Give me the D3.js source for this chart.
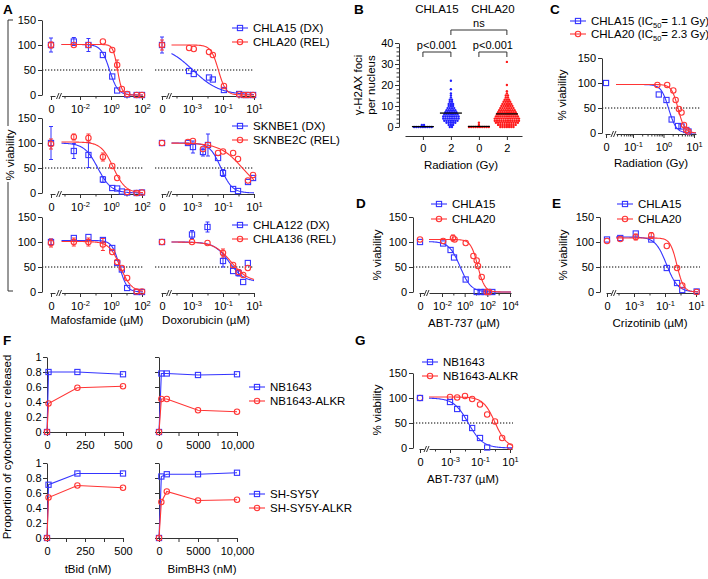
<!DOCTYPE html>
<html>
<head>
<meta charset="utf-8">
<script src="https://cdn.jsdelivr.net/npm/d3@7/dist/d3.min.js"></script>
<style>
  body { margin: 0; background: #fff; }
  svg text { font-family: Arial, "Liberation Sans", Helvetica, sans-serif; fill: #000; }
  .axis path, .axis line { stroke: #333; stroke-width: 1; }
  .axis text { font-size: 11px; font-family: Arial, "Liberation Sans", sans-serif; fill: #000; }
</style>
</head>
<body>
<svg id="fig" width="708" height="579"></svg>
<script>
// ---------- A: mafosfamide (uM) ----------
var mafConc = [0, 0.004, 0.035, 0.3, 1.2, 2.5, 5, 11, 45, 100];
var mafCHLA15 = [100, 107, 100, 80, 37, 9, null, 1, 0, 0];
var mafCHLA15Sd = [14, 8, 13, 3, 4, 2, 0, 1, 0, 0];
var mafCHLA20 = [100, 100, 100, 107, 90, 60, 12, 2, 0, 0];
var mafCHLA20Sd = [6, 3, 4, 2, 3, 10, 3, 2, 0, 0];
var mafSKNBE1 = [100, 84, 76, 27, 10, 9, 3, 1, 0, 1];
var mafSKNBE1Sd = [33, 15, 25, 6, 2, 2, 1, 1, 1, 1];
var mafSKNBE2C = [98, 112, 110, 72, 54, 30, null, 2, 0, 1];
var mafSKNBE2CSd = [10, 6, 8, 8, 3, 5, 0, 1, 1, 1];
var mafCHLA122 = [100, 108, 110, 104, 88, 58, 45, 8, 0, 0];
var mafCHLA122Sd = [6, 5, 4, 4, 3, 3, 3, 2, 0, 0];
var mafCHLA136 = [98, 100, 100, 95, 80, 60, 48, 28, 1, 1];
var mafCHLA136Sd = [8, 8, 8, 12, 3, 3, 3, 3, 1, 1];

// ---------- A: doxorubicin (uM) ----------
var doxConc1 = [0, 0.00065, 0.0013, 0.0125, 0.022, 0.115, 1.1, 2.2, 4.1, 8.7];
var doxCHLA15 = [100, 48, 42, 35, 31, 10, 2, 0, 0, 0];
var doxCHLA15Sd = [16, 2, 2, 2, 2, 2, 1, 0, 0, 0];
var doxCHLA20 = [100, 94, 92, 86, 80, 18, 1, 0, 0, 0];
var doxCHLA20Sd = [10, 5, 5, 3, 3, 2, 1, 0, 0, 0];
var doxConc2 = [0, 0.00055, 0.00115, 0.0051, 0.0107, 0.048, 0.1, 0.45, 0.93, 4.1, 8.7];
var doxSKNBE1 = [100, 100, 92, 82, 96, 70, 40, 8, 4, 22, 30];
var doxSKNBE1Sd = [2, 3, 12, 8, 22, 3, 7, 2, 2, 3, 3];
var doxSKNBE2C = [100, 102, 104, 88, 96, 80, 83, 80, 68, 25, 36];
var doxSKNBE2CSd = [2, 3, 4, 4, 3, 3, 3, 2, 2, 2, 3];
var doxConc3 = [0, 0.001, 0.01, 0.1, 0.45, 1, 2, 4];
var doxCHLA122 = [100, 115, 130, 62, 42, 38, 20, 58];
var doxCHLA122Sd = [2, 8, 10, 12, 4, 6, 3, 3];
var doxCHLA136 = [100, 100, 98, 78, 54, 40, 34, 48];
var doxCHLA136Sd = [2, 3, 3, 8, 3, 3, 3, 3];

// fitted curves: [top, bottom, logIC50, hill slope]
var fitMafCHLA15 = [101, 0, -0.1, 1.6];
var fitMafCHLA20 = [101, 0, 0.42, 3];
var fitMafSKNBE1 = [100, 0, -0.85, 1.0];
var fitMafSKNBE2C = [102, 0, 0.15, 1.1];
var fitMafCHLA122 = [103, 0, 0.55, 1.8];
var fitMafCHLA136 = [101, 0, 0.6, 1.2];
var fitDoxCHLA15 = [100, 0, -2.95, 0.5];
var fitDoxCHLA20 = [100, 0, -1.3, 1.8];
var fitDoxSKNBE1 = [100, 0, -1.13, 1.2];
var fitDoxSKNBE2C = [100, 0, 0.25, 0.6];
var fitDoxCHLA122 = [100, 20, -0.6, 0.9];
var fitDoxCHLA136 = [100, 20, -0.47, 0.79];

// ---------- B: gamma-H2AX foci per nucleus ----------
var fociGroups = ["0", "2", "0", "2"];
var foci15_0Gy = [0, 0, 0, 0, 0, 0, 0, 0, 0, 1, 1];
var foci15_2Gy = [0, 0, 1, 1, 1, 2, 2, 2, 2, 2, 3, 3, 3, 3, 3, 3, 3, 4, 4, 4, 4, 4, 4, 4, 4,
  5, 5, 5, 5, 5, 5, 5, 5, 6, 6, 6, 6, 6, 6, 6, 7, 7, 7, 7, 7, 7, 8, 8, 8, 8, 8, 9, 9, 9, 9,
  10, 10, 10, 11, 11, 11, 12, 12, 13, 13, 14, 15, 16, 18, 22];
var foci20_0Gy = [0, 0, 0, 0, 0, 0, 0, 0, 0, 0, 1, 2];
var foci20_2Gy = [0, 0, 0, 0, 0, 0, 0, 1, 1, 1, 1, 1, 1, 1, 1, 1, 2, 2, 2, 2, 2, 2, 2, 2, 2, 2, 2,
  3, 3, 3, 3, 3, 3, 3, 3, 3, 3, 3, 3, 4, 4, 4, 4, 4, 4, 4, 4, 4, 4, 4, 4,
  5, 5, 5, 5, 5, 5, 5, 5, 5, 5, 5, 6, 6, 6, 6, 6, 6, 6, 6, 6, 6, 7, 7, 7, 7, 7, 7, 7, 7, 7,
  8, 8, 8, 8, 8, 8, 8, 8, 9, 9, 9, 9, 9, 9, 9, 10, 10, 10, 10, 10, 10, 11, 11, 11, 11, 11,
  12, 12, 12, 12, 13, 13, 13, 14, 14, 15, 15, 16, 17, 20, 31];

// ---------- C: radiation (Gy) ----------
var radDose15 = [0, 0.7, 1.25, 1.85, 3.0, 3.9, 5.6, 6.6];
var radCHLA15 = [100, 77, 66, 27, 14, 13, 6, 3];
var radDose20 = [0.63, 1.32, 2.1, 2.5, 3.2, 3.9, 4.7, 5.6, 6.5];
var radCHLA20 = [96, 96, 85, 66, 48, 41, 16, 6, 3];
var fitRadCHLA15 = [97, 0, 0.17, 3.5];
var fitRadCHLA20 = [97, 0, 0.48, 4];

// ---------- D: ABT-737 (uM) ----------
var abtDose15 = [0, 0.0126, 0.057, 0.115, 1.23, 11.5, 26, 58, 115, 275];
var abtCHLA15 = [100, 97, 84, 69, 25, 0, 0, 0, 0, 0];
var abtCHLA15Sd = [3, 2, 2, 2, 2, 0, 0, 0, 0, 0];
var abtDose20 = [0, 0.0126, 0.093, 0.13, 1.23, 5.9, 11.5, 15, 32, 87, 140];
var abtCHLA20 = [105, 102, 108, 105, 98, 72, 63, 52, 30, 0, 0];
var abtCHLA20Sd = [5, 3, 6, 3, 2, 3, 3, 3, 2, 0, 0];
var fitAbtCHLA15 = [101, 0, -0.4, 0.9];
var fitAbtCHLA20 = [105, 0, 1.15, 1.4];

// ---------- E: crizotinib (uM) ----------
var crizDose = [0, 0.00013, 0.0013, 0.013, 0.13, 0.6, 1.3, 11];
var crizCHLA15 = [105, 108, 117, 105, 48, 18, 4, 1];
var crizCHLA15Sd = [2, 2, 4, 2, 2, 2, 1, 0];
var crizCHLA20 = [102, 106, 110, 113, 92, 48, 13, 0];
var crizCHLA20Sd = [2, 2, 6, 6, 5, 2, 1, 0];
var fitCrizCHLA15 = [110, 0, -0.9, 1.2];
var fitCrizCHLA20 = [108, 0, -0.23, 2];

// ---------- F: cytochrome c release ----------
var tBidDose = [0, 10, 200, 500];
var tBidNB1643 = [0, 0.8, 0.8, 0.77];
var tBidNB1643ALKR = [0, 0.38, 0.59, 0.61];
var tBidSHSY5Y = [0, 0.71, 0.86, 0.86];
var tBidSHSY5YALKR = [0, 0.54, 0.7, 0.67];
var bimDose = [0, 300, 1000, 5000, 10000];
var bimNB1643 = [0, 0.78, 0.78, 0.76, 0.77];
var bimNB1643ALKR = [0, 0.44, 0.44, 0.29, 0.27];
var bimSHSY5Y = [0, 0.82, 0.85, 0.85, 0.87];
var bimSHSY5YALKR = [0, 0.48, 0.62, 0.5, 0.51];

// ---------- G: ABT-737 (uM) ----------
var abtDoseG = [0, 0.001, 0.003, 0.01, 0.03, 0.1, 0.3, 1, 3, 10];
var abtNB1643 = [100, 92, 78, 60, 40, 20, 1, null, null, null];
var abtNB1643Sd = [2, 2, 2, 2, 2, 2, 0, 0, 0, 0];
var abtNB1643ALKR = [100, 102, 101, 104, 98, 87, 67, 53, 20, 3];
var abtNB1643ALKRSd = [2, 3, 3, 5, 2, 2, 2, 2, 2, 1];
var fitAbtNB1643 = [100, 0, -1.78, 0.9];
var fitAbtNB1643ALKR = [102, 0, 0.0, 1.1];

var BLUE = "#3535ff", RED = "#ff3535";
var svg = d3.select("#fig");

function hill(p, c) {
  return p[1] + (p[0] - p[1]) / (1 + Math.pow(10, p[3] * (Math.log10(c) - p[2])));
}

function marker(g, shape, cx, cy, color) {
  if (shape === "sq") {
    g.append("rect").attr("x", cx - 2.6).attr("y", cy - 2.6).attr("width", 5.2).attr("height", 5.2)
      .attr("fill", "none").attr("stroke", color).attr("stroke-width", 1.1);
  } else {
    g.append("circle").attr("cx", cx).attr("cy", cy).attr("r", 2.7)
      .attr("fill", "none").attr("stroke", color).attr("stroke-width", 1.1);
  }
}

function legend(x, y, shape, color, name) {
  svg.append("line").attr("x1", x).attr("x2", x + 16).attr("y1", y).attr("y2", y)
    .attr("stroke", color).attr("stroke-width", 1.1);
  marker(svg, shape, x + 8, y, color);
  return svg.append("text").attr("x", x + 21).attr("y", y).attr("dy", "0.36em")
    .style("font-size", "11.5px").text(name);
}

function words(x, y, s, size, anchor, bold) {
  return svg.append("text").attr("x", x).attr("y", y).attr("text-anchor", anchor || "middle")
    .style("font-size", size + "px").style("font-weight", bold ? "bold" : "normal").text(s);
}

function vlabel(x, y, s) {
  svg.append("text").attr("transform", "translate(" + x + "," + y + ") rotate(-90)")
    .attr("text-anchor", "middle").style("font-size", "11.5px").text(s);
}

// dose-response panel with a "0" stub, an axis break and a log axis
function viability(spec) {
  var g = svg.append("g");
  var y = d3.scaleLinear().domain([0, 150]).range([spec.y0, spec.y0 - 75]);
  var x = d3.scaleLog()
    .domain([Math.pow(10, spec.ref[0]), Math.pow(10, spec.ref[2])])
    .range([spec.ref[1], spec.ref[3]]);
  var logStart = spec.brk + 5;
  var xl = x.copy().domain([x.invert(logStart), x.invert(spec.end)]).range([logStart, spec.end]);
  var px = function (c) { return c === 0 ? spec.zeroX : x(c); };
  var ay = spec.y0 + 1;

  g.append("line").attr("x1", spec.dot[0]).attr("x2", spec.dot[1])
    .attr("y1", y(50)).attr("y2", y(50))
    .attr("stroke", "#000").attr("stroke-width", 1).attr("stroke-dasharray", "1.3,1.7");

  if (spec.yAxisX != null) {
    g.append("g").attr("class", "axis").attr("transform", "translate(" + spec.yAxisX + ",0)")
      .call(d3.axisLeft(y).tickValues([0, 50, 100, 150]).tickSize(4).tickSizeOuter(0).tickPadding(2));
  }

  var zs = d3.scaleLinear().domain([-1, 4]).range([spec.zeroX - 1, spec.zeroX + 4]);
  g.append("g").attr("class", "axis").attr("transform", "translate(0," + ay + ")")
    .call(d3.axisBottom(zs).tickValues([0]).tickSize(4).tickSizeOuter(0).tickPadding(5)
      .tickFormat(function () { return "0"; }));

  var major = g.append("g").attr("class", "axis").attr("transform", "translate(0," + ay + ")")
    .call(d3.axisBottom(xl).tickValues(spec.major.map(function (e) { return Math.pow(10, e); }))
      .tickSize(4).tickSizeOuter(0).tickPadding(5).tickFormat(""));
  major.selectAll(".tick text").each(function (d) {
    var t = d3.select(this).text("10");
    t.append("tspan").attr("dy", "-0.5em").style("font-size", "7.5px")
      .text(Math.round(Math.log10(d)));
  });
  var dom = xl.domain();
  g.append("g").attr("class", "axis").attr("transform", "translate(0," + ay + ")")
    .call(d3.axisBottom(xl).tickValues(spec.minor.filter(function (v) { return v > dom[0] && v < dom[1]; }))
      .tickSize(2.5).tickFormat(""))
    .select(".domain").remove();

  [0, 2.5].forEach(function (o) {
    g.append("line").attr("x1", spec.brk + o).attr("x2", spec.brk + 2.5 + o)
      .attr("y1", ay + 3).attr("y2", ay - 3).attr("stroke", "#333").attr("stroke-width", 1);
  });

  spec.series.forEach(function (s) {
    var pts = d3.range(0, 121).map(function (i) {
      var c = dom[0] * Math.pow(dom[1] / dom[0], i / 120);
      return [x(c), y(hill(s.fit, c))];
    });
    g.append("path").attr("d", d3.line()(pts)).attr("fill", "none")
      .attr("stroke", s.color).attr("stroke-width", 1.1);
    s.conc.forEach(function (c, i) {
      var v = s.val[i];
      if (v == null) return;
      var e = s.sd ? s.sd[i] : 0;
      var cx = px(c);
      if (e > 5) {
        var y1 = y(v - e), y2 = y(v + e);
        g.append("path")
          .attr("d", "M" + cx + "," + y1 + "V" + y2 + "M" + (cx - 2) + "," + y1 + "h4M" + (cx - 2) + "," + y2 + "h4")
          .attr("fill", "none").attr("stroke", s.color).attr("stroke-width", 1);
      }
      marker(g, s.shape, cx, y(v), s.color);
    });
  });
}

function ser(conc, val, sd, fit, color, shape) {
  return { conc: conc, val: val, sd: sd, fit: fit, color: color, shape: shape };
}

var minorFine = d3.range(-2, 1).reduce(function (a, e) {
  return a.concat(d3.range(2, 10).map(function (k) { return k * Math.pow(10, e); }));
}, []);

// ---------- panel A ----------
var rowsA = [
  { top: 20, names: ["CHLA15 (DX)", "CHLA20 (REL)"],
    maf: [ser(mafConc, mafCHLA15, mafCHLA15Sd, fitMafCHLA15, BLUE, "sq"), ser(mafConc, mafCHLA20, mafCHLA20Sd, fitMafCHLA20, RED, "ci")],
    dox: [ser(doxConc1, doxCHLA15, doxCHLA15Sd, fitDoxCHLA15, BLUE, "sq"), ser(doxConc1, doxCHLA20, doxCHLA20Sd, fitDoxCHLA20, RED, "ci")] },
  { top: 118, names: ["SKNBE1 (DX)", "SKNBE2C (REL)"],
    maf: [ser(mafConc, mafSKNBE1, mafSKNBE1Sd, fitMafSKNBE1, BLUE, "sq"), ser(mafConc, mafSKNBE2C, mafSKNBE2CSd, fitMafSKNBE2C, RED, "ci")],
    dox: [ser(doxConc2, doxSKNBE1, doxSKNBE1Sd, fitDoxSKNBE1, BLUE, "sq"), ser(doxConc2, doxSKNBE2C, doxSKNBE2CSd, fitDoxSKNBE2C, RED, "ci")] },
  { top: 217, names: ["CHLA122 (DX)", "CHLA136 (REL)"],
    maf: [ser(mafConc, mafCHLA122, mafCHLA122Sd, fitMafCHLA122, BLUE, "sq"), ser(mafConc, mafCHLA136, mafCHLA136Sd, fitMafCHLA136, RED, "ci")],
    dox: [ser(doxConc3, doxCHLA122, doxCHLA122Sd, fitDoxCHLA122, BLUE, "sq"), ser(doxConc3, doxCHLA136, doxCHLA136Sd, fitDoxCHLA136, RED, "ci")] }
];
rowsA.forEach(function (r) {
  viability({ y0: r.top + 75, yAxisX: 42, ref: [-2, 80, 2, 142], zeroX: 51, brk: 56.5, end: 143,
    dot: [42, 143], major: [-2, 0, 2], minor: [0.001, 0.1, 10], series: r.maf });
  viability({ y0: r.top + 75, yAxisX: null, ref: [-3, 192, 1, 254], zeroX: 162, brk: 166.5, end: 254,
    dot: [155, 253], major: [-3, -1, 1], minor: [0.0001, 0.01, 1], series: r.dox });
  legend(232, r.top + 8, "sq", BLUE, r.names[0]);
  legend(232, r.top + 22, "ci", RED, r.names[1]);
});
words(3, 14, "A", 13.5, "start", true);
svg.append("path").attr("d", "M13,20H8V126M8,182V291H13").attr("fill", "none").attr("stroke", "#333");
vlabel(14, 155, "% viability");
words(97, 324, "Mafosfamide (µM)", 11.5);
words(206, 324, "Doxorubicin (µM)", 11.5);

// ---------- panel B ----------
(function () {
  var bx = d3.scaleLinear().domain([-0.64, 3.54]).range([405, 522]);
  var by = d3.scaleLinear().domain([0, 40]).range([127, 43]);
  var g = svg.append("g");
  g.append("g").attr("class", "axis").attr("transform", "translate(399,0)")
    .call(d3.axisLeft(by).tickValues([0, 10, 20, 30, 40]).tickSize(4).tickSizeOuter(0).tickPadding(1.5));
  g.append("g").attr("class", "axis").attr("transform", "translate(399,0)")
    .call(d3.axisLeft(by).tickValues(d3.range(2, 40, 2).filter(function (v) { return v % 10; }))
      .tickSize(2.5).tickFormat(""))
    .select(".domain").remove();
  g.append("g").attr("class", "axis").attr("transform", "translate(0,136)")
    .call(d3.axisBottom(bx).tickValues([0, 1, 2, 3]).tickSize(4).tickSizeOuter(0).tickPadding(4)
      .tickFormat(function (i) { return fociGroups[i]; }));

  var groups = [
    { vals: foci15_0Gy, color: "#2020ff" }, { vals: foci15_2Gy, color: "#2020ff" },
    { vals: foci20_0Gy, color: "#ff1a1a" }, { vals: foci20_2Gy, color: "#ff1a1a" }
  ];
  groups.forEach(function (grp, gi) {
    var counts = d3.rollup(grp.vals, function (v) { return v.length; }, function (v) { return v; });
    var seen = new Map();
    grp.vals.forEach(function (v) {
      var k = seen.get(v) || 0; seen.set(v, k + 1);
      var n = counts.get(v);
      g.append("circle").attr("cx", bx(gi) + (k - (n - 1) / 2) * 2.2).attr("cy", by(v))
        .attr("r", 1.2).attr("fill", grp.color);
    });
    var m = by(d3.mean(grp.vals));
    g.append("line").attr("x1", bx(gi) - 11).attr("x2", bx(gi) + 11).attr("y1", m).attr("y2", m)
      .attr("stroke", "#000").attr("stroke-width", 1.3);
  });
  function bracket(i1, i2, yy, s, ty) {
    g.append("path").attr("d", "M" + bx(i1) + "," + (yy + 5) + "V" + yy + "H" + bx(i2) + "V" + (yy + 5))
      .attr("fill", "none").attr("stroke", "#333");
    words((bx(i1) + bx(i2)) / 2, ty, s, 11);
  }
  bracket(0, 1, 52, "p<0.001", 48.5);
  bracket(2, 3, 52, "p<0.001", 48.5);
  bracket(1, 3, 30, "ns", 27);
  words((bx(0) + bx(1)) / 2, 13, "CHLA15", 11.5);
  words((bx(2) + bx(3)) / 2, 13, "CHLA20", 11.5);
  words(461, 169, "Radiation (Gy)", 11.5);
  vlabel(362, 85, "γ-H2AX foci");
  vlabel(375, 85, "per nucleus");
})();
words(354, 14, "B", 13.5, "start", true);

// ---------- panel C ----------
viability({ y0: 133, yAxisX: 602, ref: [-1, 633, 1, 694], zeroX: 606, brk: 611, end: 696,
  dot: [602, 700], major: [-1, 0, 1], minor: minorFine,
  series: [ser(radDose15, radCHLA15, null, fitRadCHLA15, BLUE, "sq"),
           ser(radDose20, radCHLA20, null, fitRadCHLA20, RED, "ci")] });
words(550, 14, "C", 13.5, "start", true);
[["CHLA15", "1.1", 21, "sq", BLUE], ["CHLA20", "2.3", 34, "ci", RED]].forEach(function (l) {
  var t = legend(570, l[2], l[3], l[4], l[0] + " (IC");
  t.append("tspan").attr("dy", "3").style("font-size", "7.5px").text("50");
  t.append("tspan").attr("dy", "-3").text("= " + l[1] + " Gy)");
});
vlabel(566, 95, "% viability");
words(651, 167, "Radiation (Gy)", 11.5);

// ---------- panel D ----------
viability({ y0: 292, yAxisX: 413, ref: [-2, 442, 4, 510], zeroX: 420, brk: 424, end: 511,
  dot: [413, 512], major: [-2, 0, 2, 4], minor: [0.1, 10, 1000],
  series: [ser(abtDose15, abtCHLA15, abtCHLA15Sd, fitAbtCHLA15, BLUE, "sq"),
           ser(abtDose20, abtCHLA20, abtCHLA20Sd, fitAbtCHLA20, RED, "ci")] });
words(356, 207.5, "D", 13.5, "start", true);
legend(431, 204, "sq", BLUE, "CHLA15");
legend(431, 219, "ci", RED, "CHLA20");
vlabel(381, 255, "% viability");
words(464, 327, "ABT-737 (µM)", 11.5);

// ---------- panel E ----------
viability({ y0: 292, yAxisX: 600, ref: [-3, 634, 1, 696], zeroX: 607, brk: 611, end: 698,
  dot: [600, 700], major: [-3, -1, 1], minor: [0.0001, 0.01, 1],
  series: [ser(crizDose, crizCHLA15, crizCHLA15Sd, fitCrizCHLA15, BLUE, "sq"),
           ser(crizDose, crizCHLA20, crizCHLA20Sd, fitCrizCHLA20, RED, "ci")] });
words(552, 207.5, "E", 13.5, "start", true);
legend(617, 204, "sq", BLUE, "CHLA15");
legend(617, 219, "ci", RED, "CHLA20");
vlabel(567, 255, "% viability");
words(650, 327, "Crizotinib (µM)", 11.5);

// ---------- panel G ----------
viability({ y0: 448, yAxisX: 413, ref: [-3, 450, 1, 510], zeroX: 420, brk: 424, end: 512,
  dot: [413, 513], major: [-3, -1, 1], minor: [0.0001, 0.01, 1],
  series: [ser(abtDoseG, abtNB1643ALKR, abtNB1643ALKRSd, fitAbtNB1643ALKR, RED, "ci"),
           ser(abtDoseG, abtNB1643, abtNB1643Sd, fitAbtNB1643, BLUE, "sq")] });
words(355, 345, "G", 13.5, "start", true);
legend(422, 362, "sq", BLUE, "NB1643");
legend(422, 376, "ci", RED, "NB1643-ALKR");
vlabel(381, 410, "% viability");
words(463, 483, "ABT-737 (µM)", 11.5);

// ---------- panel F ----------
function release(spec) {
  var g = svg.append("g");
  var y = d3.scaleLinear().domain([0, 1]).range([spec.y0, spec.y0 - 75]);
  var x = d3.scaleLinear().domain([0, spec.max]).range([spec.x0, spec.x1]);
  g.append("g").attr("class", "axis").attr("transform", "translate(" + spec.x0 + ",0)")
    .call(d3.axisLeft(y).tickValues([0, 0.2, 0.4, 0.6, 0.8, 1]).tickSize(4).tickSizeOuter(0).tickPadding(1.5)
      .tickFormat(spec.labels ? function (d) { return d === 0 || d === 1 ? d : d3.format(".1f")(d); } : ""));
  g.append("g").attr("class", "axis").attr("transform", "translate(0," + spec.y0 + ")")
    .call(d3.axisBottom(x).tickValues(spec.ticks).tickSize(4).tickSizeOuter(0).tickPadding(5)
      .tickFormat(function (d, i) { return i % 2 ? "" : (d === 10000 ? "10,000" : d); }));
  spec.series.forEach(function (s) {
    g.append("path").attr("d", d3.line()(spec.dose.map(function (c, i) { return [x(c), y(s.val[i])]; })))
      .attr("fill", "none").attr("stroke", s.color).attr("stroke-width", 1.1);
    spec.dose.forEach(function (c, i) { marker(g, s.shape, x(c), y(s.val[i]), s.color); });
  });
}
var tBidTicks = [0, 125, 250, 375, 500];
var bimTicks = [0, 2500, 5000, 7500, 10000];
release({ y0: 432, x0: 47, x1: 123, max: 500, ticks: tBidTicks, labels: true, dose: tBidDose,
  series: [{ val: tBidNB1643, color: BLUE, shape: "sq" }, { val: tBidNB1643ALKR, color: RED, shape: "ci" }] });
release({ y0: 432, x0: 159, x1: 237, max: 10000, ticks: bimTicks, labels: false, dose: bimDose,
  series: [{ val: bimNB1643, color: BLUE, shape: "sq" }, { val: bimNB1643ALKR, color: RED, shape: "ci" }] });
release({ y0: 538, x0: 47, x1: 123, max: 500, ticks: tBidTicks, labels: true, dose: tBidDose,
  series: [{ val: tBidSHSY5Y, color: BLUE, shape: "sq" }, { val: tBidSHSY5YALKR, color: RED, shape: "ci" }] });
release({ y0: 538, x0: 159, x1: 237, max: 10000, ticks: bimTicks, labels: false, dose: bimDose,
  series: [{ val: bimSHSY5Y, color: BLUE, shape: "sq" }, { val: bimSHSY5YALKR, color: RED, shape: "ci" }] });
words(3, 345, "F", 13.5, "start", true);
legend(249, 387, "sq", BLUE, "NB1643");
legend(249, 401, "ci", RED, "NB1643-ALKR");
legend(249, 494, "sq", BLUE, "SH-SY5Y");
legend(249, 508, "ci", RED, "SH-SY5Y-ALKR");
vlabel(11, 447, "Proportion of cytochrome c released");
words(88, 573, "tBid (nM)", 11.5);
words(202, 573, "BimBH3 (nM)", 11.5);
</script>
</body>
</html>
